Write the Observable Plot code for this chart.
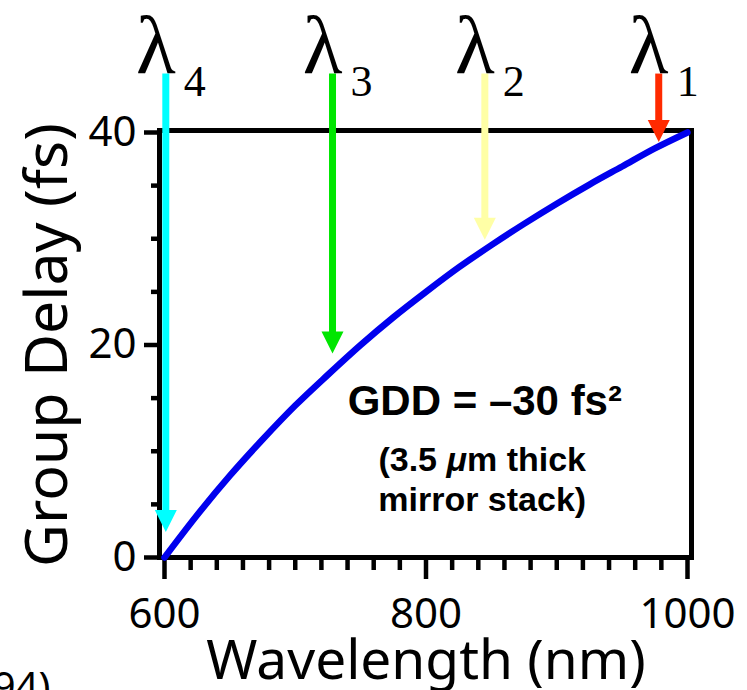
<!DOCTYPE html>
<html><head><meta charset="utf-8">
<script src="https://cdn.jsdelivr.net/npm/d3@7"></script>
<script src="https://cdn.jsdelivr.net/npm/@observablehq/plot@0.6"></script>
<style>
html,body{margin:0;padding:0;background:#fff;overflow:hidden;}
#chart svg{display:block;overflow:hidden;}
</style>
</head><body><div id="chart"></div>
<script>
// Curve: group delay (fs) vs wavelength (nm)
const wavelength = [600, 625, 650, 675, 700, 725, 750, 775, 800, 825, 850, 875, 900, 925, 950, 975, 1000];
const groupDelay = [0, 4.0, 7.7, 11.1, 14.3, 17.2, 20.0, 22.6, 25.0, 27.3, 29.4, 31.4, 33.3, 35.1, 36.8, 38.5, 40.0];

// Arrows marking the four wavelengths
const arrowSubscripts = ["4", "3", "2", "1"];
const arrowWavelength = [601, 728.5, 845, 978];
const arrowTip = [2.4, 19.2, 29.9, 39.1];
const arrowStart = [45.5, 45.5, 45.5, 45.5];
const arrowColors = ["#00ffff", "#00e600", "#ffffa6", "#ff2a00"];

// Ticks
const xMajorTicks = [600, 800, 1000];
const xMinorTicks = [620, 640, 660, 680, 700, 720, 740, 760, 780, 820, 840, 860, 880, 900, 920, 940, 960, 980];
const yMajorTicks = [0, 20, 40];
const yMinorTicks = [5, 10, 15, 25, 30, 35];

// Texts
const xTitle = ["Wavelength (nm)"];
const yTitle = ["Group Delay (fs)"];
const gddNote = ["GDD = \u201330 fs\u00b2"];
const stackNote = ["(3.5 \u03bcm thick\nmirror stack)"];
const captionFragment = ["94)"];

const curve = wavelength.map((w, i) => ({w, gd: groupDelay[i]}));
const arrows = arrowSubscripts.map((s, i) => ({
  sub: s, x: arrowWavelength[i], tip: arrowTip[i], start: arrowStart[i], color: arrowColors[i]
}));

const arrowHead = {
  draw(ctx) { ctx.moveTo(0, 0); ctx.lineTo(-11, -22); ctx.lineTo(11, -22); ctx.closePath(); }
};

const sans = "'Noto Sans', sans-serif";
const bold = "'Liberation Sans', Arial, sans-serif";
const serif = "'Liberation Serif', 'Times New Roman', serif";

const chart = Plot.plot({
  width: 747,
  height: 690,
  marginLeft: 164,
  marginRight: 60,
  marginTop: 132,
  marginBottom: 133,
  style: {fontFamily: sans, color: "#000", background: "#fff", overflow: "hidden"},
  x: {domain: [600, 1000]},
  y: {domain: [0, 40]},
  color: {type: "identity"},
  marks: [
    Plot.frame({strokeWidth: 5, insetLeft: -5, insetRight: -4, insetTop: -2}),
    Plot.axisX({ticks: xMinorTicks, tickSize: 13, strokeWidth: 4.5, text: null, label: null}),
    Plot.axisX({ticks: xMajorTicks, tickSize: 22, strokeWidth: 4.5, tickPadding: 19, tickFormat: "d", fontSize: 42, fontFamily: sans, label: null}),
    Plot.axisY({ticks: yMinorTicks, tickSize: 8, strokeWidth: 4.5, dx: -5, text: null, label: null}),
    Plot.axisY({ticks: yMajorTicks, tickSize: 15, strokeWidth: 4.5, dx: -5, tickPadding: 8, tickFormat: "d", fontSize: 42, fontFamily: sans, label: null}),
    Plot.line(curve, {x: "w", y: "gd", stroke: "#0000ee", strokeWidth: 6.5, curve: "monotone-x"}),
    Plot.ruleX(arrows, {x: "x", y1: "start", y2: "tip", stroke: "color", strokeWidth: 7, insetBottom: 14}),
    Plot.dot(arrows, {x: "x", y: "tip", symbol: arrowHead, fill: "color", stroke: "none", r: 10}),
    Plot.text(arrows, {x: "x", text: () => "\u03bb", frameAnchor: "top", lineAnchor: "bottom", dy: -60, dx: -10, fontSize: 82, fontFamily: serif}),
    Plot.text(arrows, {x: "x", text: "sub", frameAnchor: "top", lineAnchor: "bottom", textAnchor: "start", dy: -37, dx: 18, fontSize: 44, fontFamily: serif}),
    Plot.text(gddNote, {x: 845, y: 13.4, lineAnchor: "bottom", fontSize: 42, fontWeight: "bold", fontFamily: bold, letterSpacing: 2.5}),
    Plot.text(stackNote, {x: 843, y: 4.4, lineAnchor: "bottom", lineHeight: 1.18, fontSize: 34, fontWeight: "bold", fontFamily: bold, letterSpacing: 1.5}),
    Plot.text(xTitle, {frameAnchor: "bottom", textAnchor: "middle", dy: 121, lineAnchor: "bottom", fontSize: 55, fontFamily: sans}),
    Plot.text(yTitle, {frameAnchor: "left", textAnchor: "middle", rotate: -90, dx: -98, lineAnchor: "bottom", fontSize: 59, fontFamily: sans}),
    Plot.text(captionFragment, {frameAnchor: "bottom-left", dx: -114, dy: 143, textAnchor: "end", lineAnchor: "bottom", fontSize: 40, fontFamily: sans})
  ]
});

// italic mu inside the note
d3.select(chart).selectAll("text, tspan").each(function() {
  if (this.childElementCount === 0 && this.textContent.includes("\u03bc")) {
    const s = this.textContent;
    const k = s.indexOf("\u03bc");
    const el = d3.select(this);
    el.text(null);
    el.append("tspan").text(s.slice(0, k));
    el.append("tspan").attr("font-style", "italic").text("\u03bc");
    el.append("tspan").text(s.slice(k + 1));
  }
});

document.getElementById("chart").append(chart);
</script>
</body></html>
